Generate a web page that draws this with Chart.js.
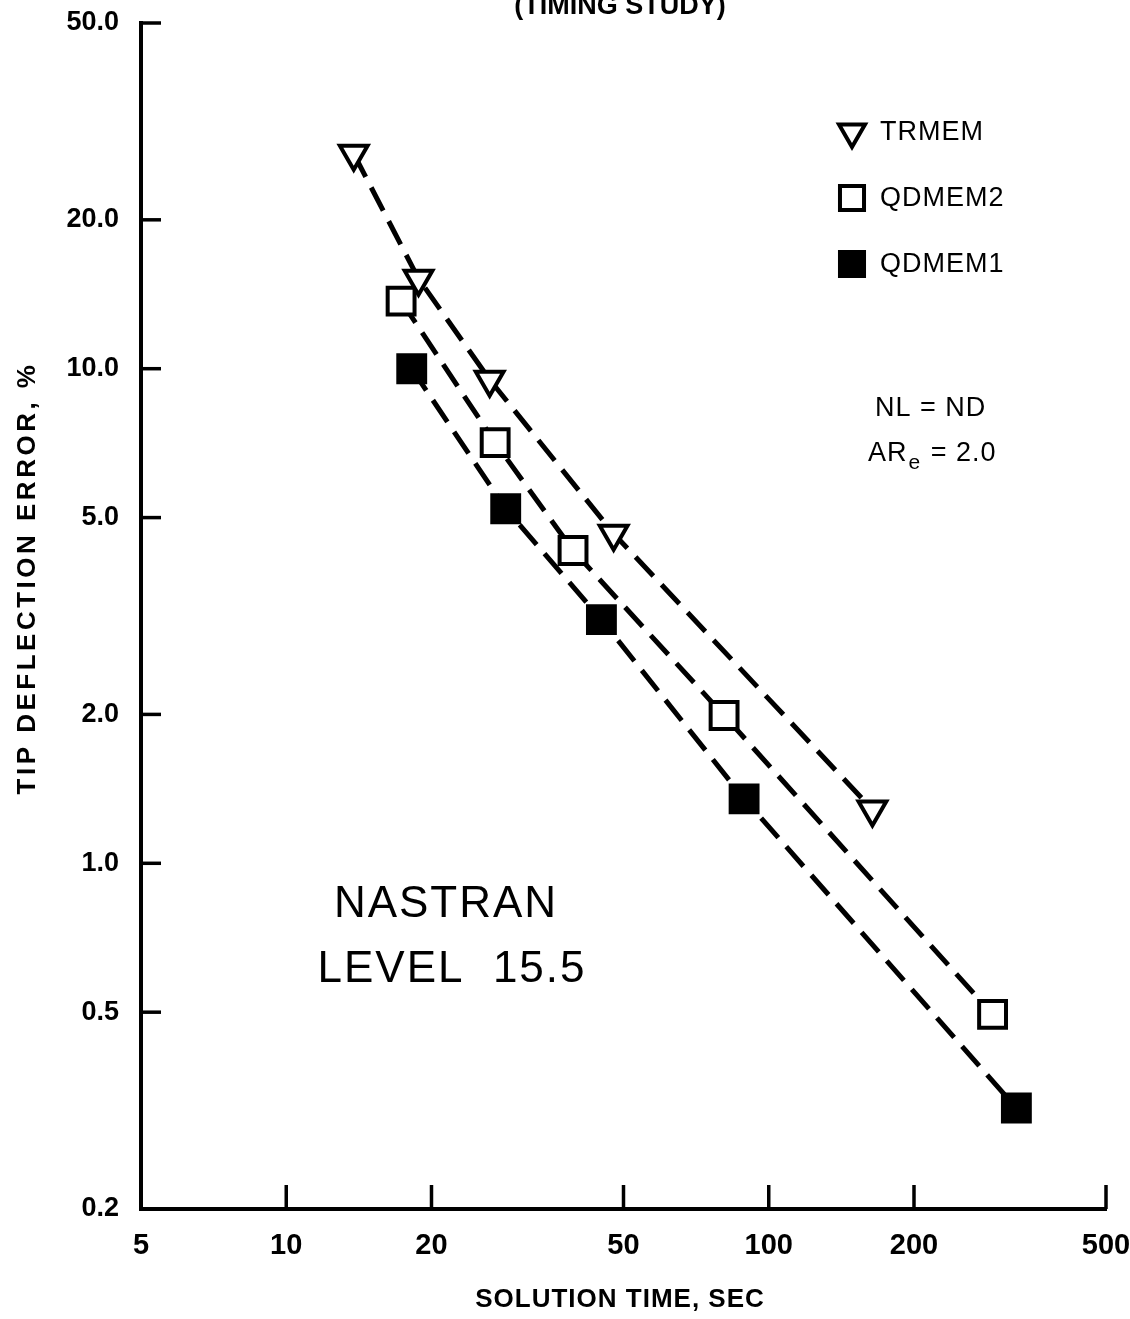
<!DOCTYPE html>
<html>
<head>
<meta charset="utf-8">
<script src="https://cdn.jsdelivr.net/npm/chart.js@4.4.1/dist/chart.umd.min.js"></script>
<style>
  html, body { margin: 0; padding: 0; background: #fff; }
  #wrap { width: 1130px; height: 1319px; }
</style>
</head>
<body>
<div id="wrap"><canvas id="timing-chart" width="1130" height="1319"></canvas></div>
<script>
// Values (solution time in sec, tip deflection error in %)
const trmemTime  = [13.8, 18.8, 26.4, 47.7, 164];
const trmemError = [27.2, 15.2, 9.5, 4.64, 1.285];

const qdmem2Time  = [17.3, 27.1, 39.3, 80.8, 291];
const qdmem2Error = [13.7, 7.09, 4.29, 1.99, 0.495];

const qdmem1Time  = [18.2, 28.5, 45.0, 88.9, 326];
const qdmem1Error = [10.0, 5.21, 3.11, 1.35, 0.32];

const xTicks = [5, 10, 20, 50, 100, 200, 500];
const yTicks = [0.2, 0.5, 1, 2, 5, 10, 20, 50];

const seriesNames = ['TRMEM', 'QDMEM2', 'QDMEM1'];

const toPoints = (xs, ys) => xs.map((x, i) => ({ x: x, y: ys[i] }));

const SANS = '"Liberation Sans", Arial, sans-serif';

// common look for the three dashed series
function series(label, data, style, fill, radius, rotation) {
    return {
        label: label,
        data: data,
        showLine: true,
        borderColor: '#000',
        borderWidth: 5,
        borderDash: [26, 12],
        pointStyle: style,
        pointRotation: rotation || 0,
        pointRadius: radius,
        pointBorderWidth: 4,
        pointBorderColor: '#000',
        pointBackgroundColor: fill,
        backgroundColor: fill,
        tension: 0
    };
}

// tick marks drawn on the inside of the axes + all free texts
const decorPlugin = {
    id: 'decor',
    afterDraw(chart) {
        const ctx = chart.ctx;
        const xs = chart.scales.x, ys = chart.scales.y;
        const area = chart.chartArea;
        ctx.save();
        ctx.strokeStyle = '#000';
        ctx.lineWidth = 3.5;
        ctx.lineCap = 'butt';
        // x ticks, pointing up
        xTicks.slice(1).forEach(v => {
            const px = xs.getPixelForValue(v);
            ctx.beginPath();
            ctx.moveTo(px, area.bottom);
            ctx.lineTo(px, area.bottom - 24);
            ctx.stroke();
        });
        // y ticks, pointing right
        yTicks.slice(1).forEach(v => {
            const py = ys.getPixelForValue(v);
            ctx.beginPath();
            ctx.moveTo(area.left, py);
            ctx.lineTo(area.left + 20, py);
            ctx.stroke();
        });

        ctx.fillStyle = '#000';
        // title (cut by the top edge)
        ctx.textAlign = 'center';
        ctx.textBaseline = 'alphabetic';
        ctx.font = 'bold 27px ' + SANS;
        ctx.fillText('(TIMING STUDY)', 620, 14);

        // axis titles
        ctx.font = 'bold 26px ' + SANS;
        ctx.letterSpacing = '1px';
        ctx.textBaseline = 'middle';
        ctx.fillText('SOLUTION TIME, SEC', 620, 1300);
        ctx.save();
        ctx.translate(28, 578);
        ctx.rotate(-Math.PI / 2);
        ctx.font = 'bold 26px ' + SANS;
        ctx.letterSpacing = '3.5px';
        ctx.fillText('TIP DEFLECTION ERROR, %', 0, 0);
        ctx.restore();

        // legend
        const ds = chart.data.datasets;
        const legendY = [132, 198, 264];
        ctx.font = '27px ' + SANS;
        ctx.letterSpacing = '1px';
        ctx.textAlign = 'left';
        ds.forEach((d, i) => {
            ctx.save();
            ctx.strokeStyle = '#000';
            ctx.fillStyle = d.pointBackgroundColor;
            ctx.lineWidth = 4;
            Chart.helpers.drawPoint(ctx, {
                pointStyle: d.pointStyle,
                rotation: d.pointRotation,
                radius: d.pointStyle === 'rect' ? 17 : 15,
                borderWidth: 4
            }, 852, legendY[i]);
            ctx.restore();
            ctx.fillText(seriesNames[i], 880, legendY[i] + 1);
        });

        // parameters
        ctx.font = '27px ' + SANS;
        ctx.fillText('NL = ND', 875, 409);
        ctx.fillText('AR', 868, 454);
        const arW = ctx.measureText('AR').width;
        ctx.font = '21px ' + SANS;
        ctx.fillText('e', 868 + arW + 1, 463);
        const eW = ctx.measureText('e').width;
        ctx.font = '27px ' + SANS;
        ctx.fillText(' = 2.0', 868 + arW + eW + 2, 454);

        // program label
        ctx.font = '44px ' + SANS;
        ctx.letterSpacing = '2px';
        ctx.textAlign = 'center';
        ctx.fillText('NASTRAN', 446, 905);
        ctx.fillText('LEVEL  15.5', 452, 970);
        ctx.restore();
    }
};

const config = {
    type: 'scatter',
    data: {
        datasets: [
            series('TRMEM', toPoints(trmemTime, trmemError), 'triangle', '#fff', 16, 180),
            series('QDMEM2', toPoints(qdmem2Time, qdmem2Error), 'rect', '#fff', 19),
            series('QDMEM1', toPoints(qdmem1Time, qdmem1Error), 'rect', '#000', 19)
        ]
    },
    options: {
        responsive: false,
        animation: false,
        layout: { padding: 0 },
        plugins: {
            legend: { display: false },
            tooltip: { enabled: false }
        },
        scales: {
            x: {
                type: 'logarithmic',
                min: 5,
                max: 500,
                border: { display: true, color: '#000', width: 4 },
                grid: { display: false, drawTicks: false },
                afterBuildTicks: axis => { axis.ticks = xTicks.map(v => ({ value: v })); },
                afterFit: axis => {
                    axis.height = 110;
                    axis.paddingLeft = 0;
                    axis.paddingRight = 24;
                },
                ticks: {
                    color: '#000',
                    padding: 20,
                    maxRotation: 0,
                    autoSkip: false,
                    font: { family: SANS, size: 29, weight: 'bold' },
                    callback: v => String(v)
                }
            },
            y: {
                type: 'logarithmic',
                min: 0.2,
                max: 50,
                border: { display: true, color: '#000', width: 4 },
                grid: { display: false, drawTicks: false },
                afterBuildTicks: axis => { axis.ticks = yTicks.map(v => ({ value: v })); },
                afterFit: axis => {
                    axis.width = 141;
                    axis.paddingTop = 22;
                    axis.paddingBottom = 0;
                },
                ticks: {
                    color: '#000',
                    padding: 22,
                    autoSkip: false,
                    font: { family: SANS, size: 27, weight: 'bold' },
                    callback: v => Number(v).toFixed(1)
                }
            }
        }
    },
    plugins: [decorPlugin]
};

const timingChart = new Chart(document.getElementById('timing-chart').getContext('2d'), config);
</script>
</body>
</html>
